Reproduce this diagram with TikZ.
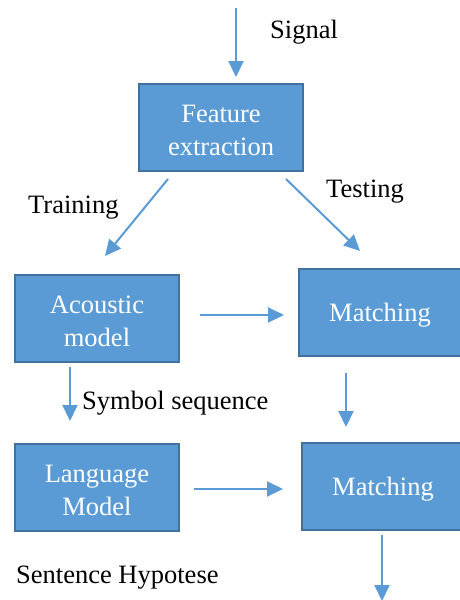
\documentclass[tikz,border=0pt]{standalone}
\usepackage{fontspec}
\setmainfont{Liberation Serif}
\usetikzlibrary{arrows.meta}
\definecolor{boxfill}{HTML}{5B9BD5}
\definecolor{boxedge}{HTML}{41719C}
\begin{document}
\begin{tikzpicture}[x=1pt,y=-1pt,
  blockbox/.style={draw=boxedge,line width=2pt,fill=boxfill,text=white,align=center,
    minimum width=#1,minimum height=87pt,inner sep=0pt,text depth=0pt,
    font=\fontsize{26.5}{33}\selectfont},
  blockbox/.default=164pt,
  lbl/.style={anchor=base west,inner sep=0pt,font=\fontsize{26.5}{33}\selectfont},
  flow/.style={draw=boxfill,line width=2pt,-{Triangle[length=16pt,width=15pt]}}]
\useasboundingbox (0,0) rectangle (460,600);
% boxes
\node[blockbox] (fe) at (221,127) {\strut Feature\\extraction};
\node[blockbox] (am) at (97,318) {\strut Acoustic\\model};
\node[blockbox=163pt] (m1) at (380,312) {Matching};
\node[blockbox] (lm) at (97,487) {\strut Language\\Model};
\node[blockbox=162pt] (m2) at (383,486) {Matching};
% labels
\node[lbl] (sig) at (270,38) {Signal};
\node[lbl] (tr) at (28,213) {Training};
\node[lbl] (te) at (326,197) {Testing};
\node[lbl] (ss) at (82,409) {Symbol sequence};
\node[lbl] (sh) at (16,583) {Sentence Hypotese};
% arrow end points
\coordinate (s0) at (236,8);
\coordinate (s1) at (236,77);
\coordinate (t0) at (168,179);
\coordinate (t1) at (105,256);
\coordinate (u0) at (286,179);
\coordinate (u1) at (360,251);
\coordinate (a0) at (200,315);
\coordinate (a1) at (284,315);
\coordinate (b0) at (70,367);
\coordinate (b1) at (70,421);
\coordinate (c0) at (346,373);
\coordinate (c1) at (346,427);
\coordinate (d0) at (194,489);
\coordinate (d1) at (283,489);
\coordinate (e0) at (382,535);
\coordinate (e1) at (382,601);
% arrows
\draw[flow] (s0) -- (s1);
\draw[flow] (t0) -- (t1);
\draw[flow] (u0) -- (u1);
\draw[flow] (a0) -- (a1);
\draw[flow] (b0) -- (b1);
\draw[flow] (c0) -- (c1);
\draw[flow] (d0) -- (d1);
\draw[flow] (e0) -- (e1);
\end{tikzpicture}
\end{document}
